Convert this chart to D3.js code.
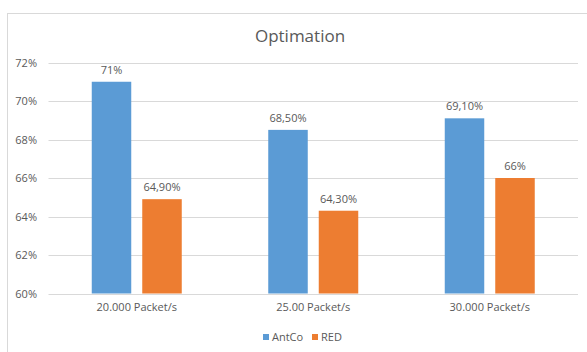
<!DOCTYPE html>
<html>
<head>
<meta charset="utf-8">
<script src="https://cdn.jsdelivr.net/npm/d3@7"></script>
<style>
  html, body { margin: 0; padding: 0; background: #fff; }
  svg { display: block; }
  text { font-family: "Open Sans", "Noto Sans", sans-serif; fill: #595959; }
</style>
</head>
<body>
<svg id="chart" width="587" height="352"></svg>
<script>
// Chart data
const categories = ["20.000 Packet/s", "25.00 Packet/s", "30.000 Packet/s"];
const seriesNames = ["AntCo", "RED"];
const antcoValues = [71, 68.5, 69.1];
const redValues = [64.9, 64.3, 66];
const antcoLabels = ["71%", "68,50%", "69,10%"];
const redLabels = ["64,90%", "64,30%", "66%"];
const yTicks = [60, 62, 64, 66, 68, 70, 72];
const colors = ["#5b9bd5", "#ed7d31"];

const svg = d3.select("#chart");
const W = 587, H = 352;

// Chart frame
svg.append("rect")
  .attr("x", 7.5).attr("y", 13.5)
  .attr("width", W + 10).attr("height", H)
  .attr("fill", "#fff").attr("stroke", "#d9d9d9");

const plot = { left: 48.5, right: 578, top: 62.5, bottom: 293.5 };

const x0 = d3.scaleBand().domain(categories).range([plot.left, plot.right]).paddingInner(0).paddingOuter(0);
const y = d3.scaleLinear().domain([60, 72]).range([plot.bottom, plot.top]);

// Gridlines
svg.append("g").selectAll("line").data(yTicks).join("line")
  .attr("x1", plot.left).attr("x2", plot.right)
  .attr("y1", d => Math.round(y(d)) + 0.5).attr("y2", d => Math.round(y(d)) + 0.5)
  .attr("stroke", "#d9d9d9").attr("stroke-width", 1);

// Y axis labels
const yAxis = d3.axisLeft(y).tickValues(yTicks).tickFormat(d => d + "%").tickSize(0).tickPadding(0);
const gy = svg.append("g").attr("transform", `translate(${37},0)`).call(yAxis);
gy.select(".domain").remove();
gy.selectAll("text").attr("font-size", 11).attr("fill", "#595959")
  .style("font-family", "'Open Sans', sans-serif");

// Bars
const barW = 39.5, gap = 11;
const groupW = barW * 2 + gap;
const rows = categories.map((c, i) => ({ cat: c, vals: [antcoValues[i], redValues[i]], labels: [antcoLabels[i], redLabels[i]] }));

const groups = svg.append("g").selectAll("g").data(rows).join("g")
  .attr("transform", d => `translate(${x0(d.cat) + (x0.bandwidth() - groupW) / 2},0)`);

groups.selectAll("rect").data(d => d.vals.map((v, j) => ({ v, j }))).join("rect")
  .attr("x", d => d.j * (barW + gap))
  .attr("y", d => y(d.v))
  .attr("width", barW)
  .attr("height", d => y(60) - y(d.v))
  .attr("fill", d => colors[d.j]);

groups.selectAll("text").data(d => d.vals.map((v, j) => ({ v, j, label: d.labels[j] }))).join("text")
  .attr("x", d => d.j * (barW + gap) + barW / 2)
  .attr("y", d => y(d.v) - 8)
  .attr("text-anchor", "middle")
  .attr("font-size", 11)
  .text(d => d.label);

// X axis labels
const xAxis = d3.axisBottom(x0).tickSize(0).tickPadding(0);
const gx = svg.append("g").attr("transform", `translate(0,${plot.bottom + 10})`).call(xAxis);
gx.select(".domain").remove();
gx.selectAll("text").attr("font-size", 11).attr("fill", "#595959")
  .style("font-family", "'Open Sans', sans-serif");

// Title
svg.append("text")
  .attr("x", 300).attr("y", 42)
  .attr("text-anchor", "middle")
  .attr("font-size", 17)
  .text("Optimation");

// Legend
const legend = svg.append("g");
const legendItems = [{ name: seriesNames[0], x: 263 }, { name: seriesNames[1], x: 312 }];
legendItems.forEach((d, i) => {
  legend.append("rect").attr("x", d.x).attr("y", 334).attr("width", 6).attr("height", 6).attr("fill", colors[i]);
  legend.append("text").attr("x", d.x + 9).attr("y", 341).attr("font-size", 11).text(d.name);
});
</script>
</body>
</html>
